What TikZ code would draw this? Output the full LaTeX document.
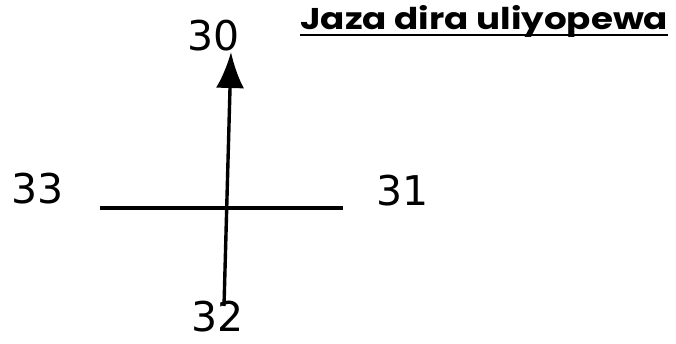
\documentclass[tikz,border=0pt]{standalone}
\usepackage{fontspec}
\usepackage{graphicx}
\setmainfont{DejaVu Sans}
\newfontfamily\numfont{DejaVu Sans}
\newfontfamily\titlefont{Poppins}
\usetikzlibrary{arrows.meta}
\tikzset{
  num/.style={font=\numfont\fontsize{41}{41}\selectfont, inner sep=0pt},
  stroke/.style={line width=3.4pt, black},
}
\begin{document}
\begin{tikzpicture}[x=1pt,y=-1pt]
\useasboundingbox (0,0) rectangle (676,343);
\fill[white] (0,0) rectangle (676,343);
% labels
\node[num] (n30) at (214,36) {30};
\node[num] (n33) at (38,189) {33};
\node[num] (n31) at (403,191) {31};
\node[num] (n32) at (218,317) {32};
% lines
\coordinate (top) at (231,52);
\coordinate (bot) at (224,306);
\coordinate (left) at (100,208);
\coordinate (right) at (343,208);
\draw[stroke, -{Latex[length=36pt,width=28pt]}] (bot) -- (top);
\draw[stroke] (left) -- (right);
% title
\node[font=\titlefont\fontsize{30}{30}\selectfont\bfseries, inner sep=0pt, anchor=base west] (title) at (300,29) {\resizebox{368pt}{\height}{Jaza dira uliyopewa}};
\draw[line width=2.8pt] (title.base west) ++(0,6) coordinate (ul) -- (title.base east |- ul);
\end{tikzpicture}
\end{document}
